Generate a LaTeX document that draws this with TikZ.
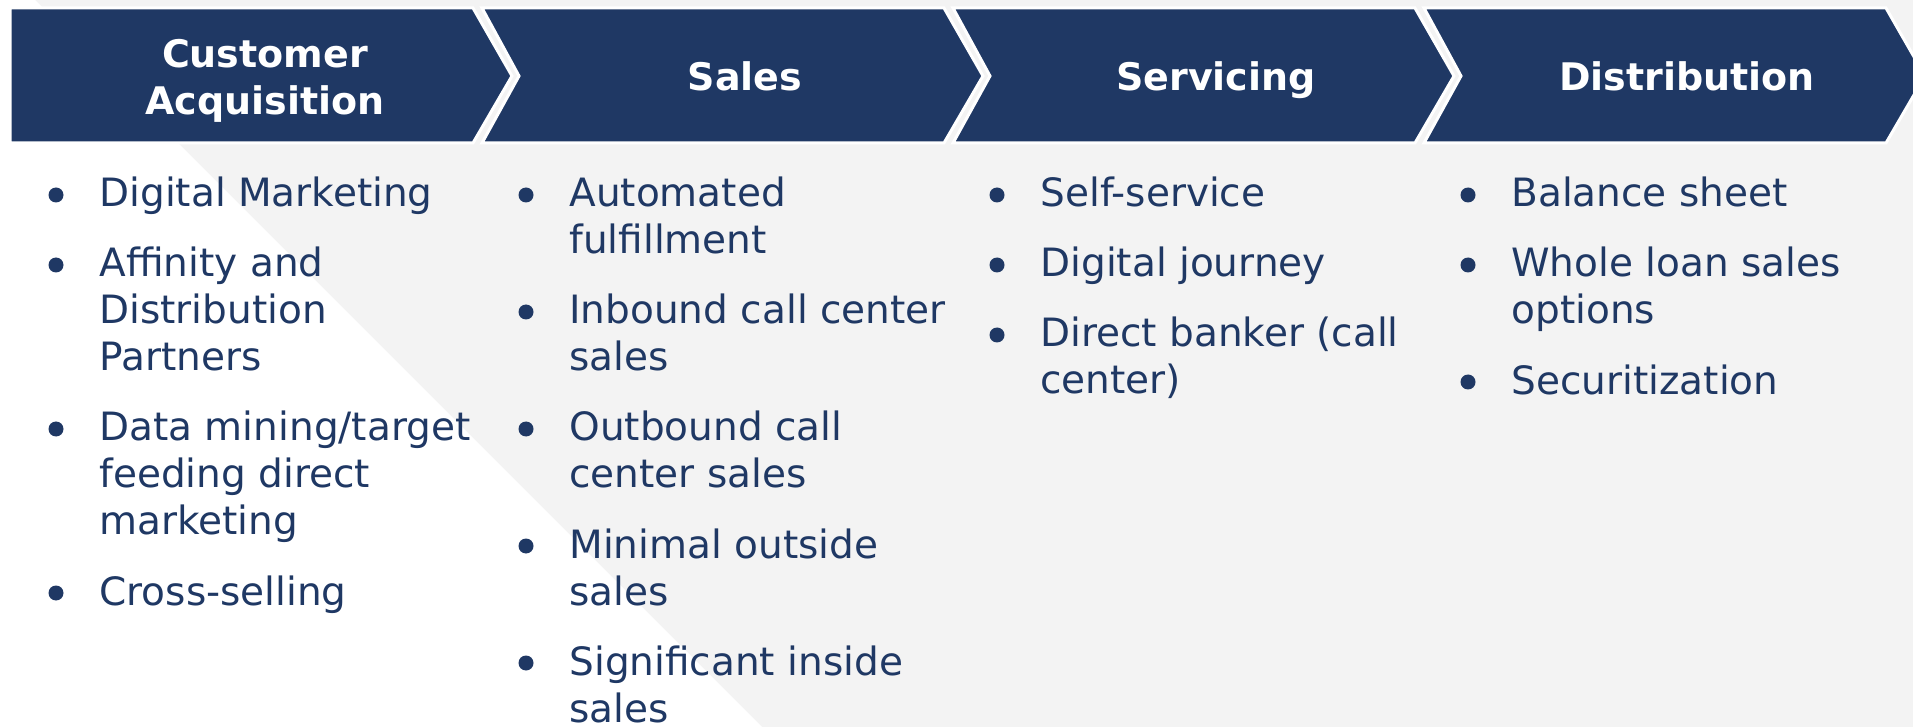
\documentclass[tikz,border=0pt]{standalone}
\usepackage{fontspec}
\setmainfont{DejaVu Sans}
\definecolor{navy}{HTML}{1F3864}
\definecolor{bggrey}{HTML}{F3F3F3}
\newcommand{\lns}[1]{\begin{tabular}[t]{@{}l@{}}#1\end{tabular}}

\begin{document}
\begin{tikzpicture}[x=0.5pt,y=-0.5pt,
    chev/.style={fill=navy,draw=white,line width=1.5pt},
    head/.style={text=white,font=\fontsize{19}{23.5}\selectfont\bfseries,align=center,inner sep=0pt},
    item/.style={text=navy,font=\fontsize{19.5}{23.5}\selectfont,anchor=base west,inner sep=0pt}]
    \useasboundingbox (0,0) rectangle (1913,727);
    % background
    \fill[bggrey] (0,0) rectangle (1913,727);
    \fill[white] (0,0)--(35,0)--(762,727)--(0,727)--cycle;
    % chevrons
    \draw[chev] (10,8)--(473,8)--(512,76)--(473,143)--(10,143)--cycle;
    \foreach \i in {1,2,3} {\draw[chev] ({11+471*\i},8)--({473+471*\i},8)--({512+471*\i},76)--({473+471*\i},143)--({11+471*\i},143)--({48+471*\i},76)--cycle;}
    \def\hs{265/115/{Customer\\Acquisition},745/91/Sales,1216/91/Servicing,1687/91/Distribution}
    \foreach \x/\y/\t [count=\i from 1] in \hs {\node[head,anchor=base] (h\i) at (\x,\y) {\t};}
    % columns
    \foreach \y/\t [count=\i from 1] in {207/Digital Marketing,277/{Affinity and\\Distribution\\Partners},441/{Data mining/target\\feeding direct\\marketing},605/Cross-selling}
      {\node[item] (acq\i) at (99,\y) {\lns{\t}}; \fill[navy] (acq\i.base west) ++(-43,-12) circle[radius=3.75pt];}
    \foreach \y/\t [count=\i from 1] in {207/{Automated\\fulfillment},324/{Inbound call center\\sales},441/{Outbound call\\center sales},558/{Minimal outside\\sales},675/{Significant inside\\sales}}
      {\node[item] (sal\i) at (569,\y) {\lns{\t}}; \fill[navy] (sal\i.base west) ++(-43,-12) circle[radius=3.75pt];}
    \foreach \y/\t [count=\i from 1] in {207/Self-service,277/Digital journey,347/{Direct banker (call\\center)}}
      {\node[item] (ser\i) at (1040,\y) {\lns{\t}}; \fill[navy] (ser\i.base west) ++(-43,-12) circle[radius=3.75pt];}
    \foreach \y/\t [count=\i from 1] in {207/Balance sheet,277/{Whole loan sales\\options},394/Securitization}
      {\node[item] (dis\i) at (1511,\y) {\lns{\t}}; \fill[navy] (dis\i.base west) ++(-43,-12) circle[radius=3.75pt];}
  \end{tikzpicture}
\end{document}
